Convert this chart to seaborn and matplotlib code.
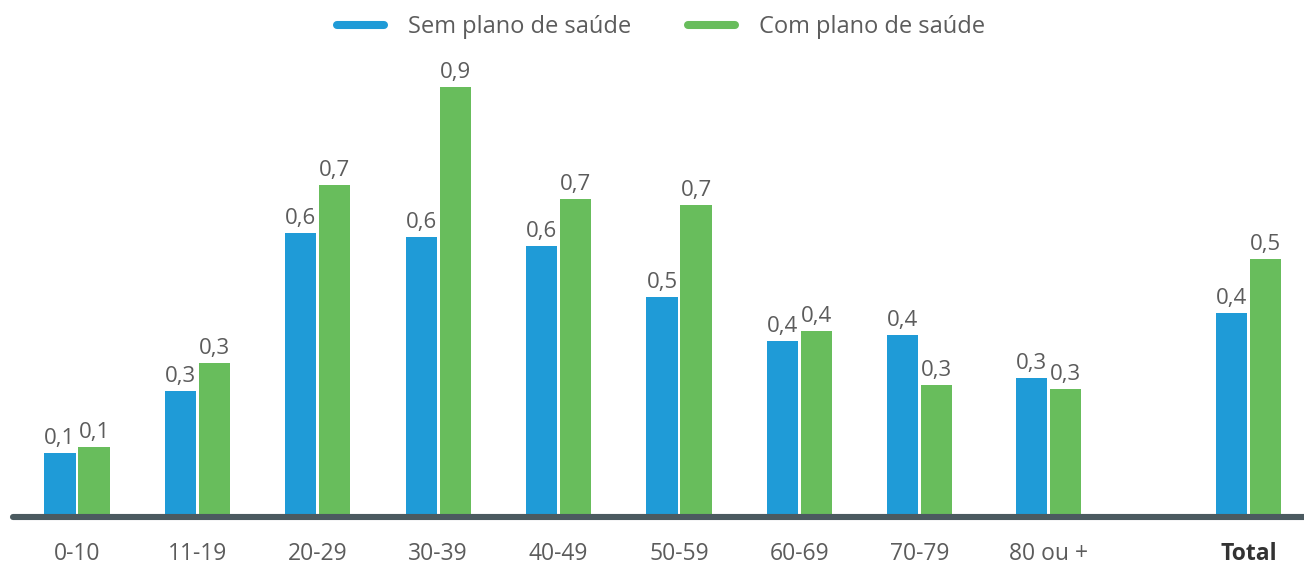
import matplotlib
matplotlib.use("Agg")
import matplotlib.pyplot as plt
import seaborn as sns
import pandas as pd
from matplotlib.lines import Line2D

categories = ["0-10", "11-19", "20-29", "30-39", "40-49", "50-59",
              "60-69", "70-79", "80 ou +", "Total"]
sem_plano = [0.134, 0.264, 0.594, 0.586, 0.567, 0.460, 0.368, 0.381, 0.291, 0.427]
com_plano = [0.146, 0.322, 0.695, 0.900, 0.665, 0.653, 0.389, 0.276, 0.268, 0.540]
series_names = ["Sem plano de saúde", "Com plano de saúde"]

# layout (slot positions of each group on the x axis)
slot_pos = [0, 1, 2, 3, 4, 5, 6, 7, 8.07, 9.73]

colors = ["#1f9bd7", "#68bd5c"]
text_color = "#5c5c5c"

sns.set_theme(style="white")
plt.rcParams["font.family"] = ["Open Sans", "DejaVu Sans"]

df = pd.DataFrame({
    "pos": slot_pos * 2,
    "valor": sem_plano + com_plano,
    "serie": [series_names[0]] * len(categories) + [series_names[1]] * len(categories),
})

fig = plt.figure(figsize=(13.04, 5.65), dpi=100)
ax = fig.add_axes([0, 48 / 565, 1, 478 / 565])

sns.barplot(data=df, x="pos", y="valor", hue="serie", hue_order=series_names,
            palette=colors, native_scale=True, width=0.565, gap=0.088,
            saturation=1, legend=False, ax=ax, linewidth=0)

ax.set_xlim(-77 / 120.4, (1304 - 77) / 120.4)
ax.set_ylim(0, 1.0)
for s in ax.spines.values():
    s.set_visible(False)
ax.set_yticks([])
ax.set_ylabel("")
ax.set_xlabel("")
ax.set_xticks(slot_pos)
ax.set_xticklabels(categories, fontsize=16.5, color=text_color)
ax.tick_params(axis="x", length=0, pad=18)
lbls = ax.get_xticklabels()
lbls[-1].set_fontweight("bold")
lbls[-1].set_color("#333333")

# value labels
for cont, vals in zip(ax.containers, [sem_plano, com_plano]):
    for patch, v in zip(cont.patches, vals):
        x = patch.get_x() + patch.get_width() / 2
        ax.annotate(f"{v:.1f}".replace(".", ","), (x, patch.get_height()),
                    xytext=(0, 6.5), textcoords="offset points",
                    ha="center", va="baseline", fontsize=16, color=text_color)

# baseline
ax.plot([13 / 1304, 1.01], [0, 0], transform=ax.transAxes, color="#4b5a60",
        lw=4.4, solid_capstyle="round", clip_on=False, zorder=5)

handles = [Line2D([0], [0], color=c, lw=5.8, solid_capstyle="round") for c in colors]
fig.legend(handles, series_names, loc="center", bbox_to_anchor=(661 / 1304, 1 - 27 / 565),
           ncol=2, frameon=False, fontsize=17, handlelength=2.0, handletextpad=1.0,
           columnspacing=2.4, labelcolor=text_color)

fig.savefig("out.png", dpi=100)
